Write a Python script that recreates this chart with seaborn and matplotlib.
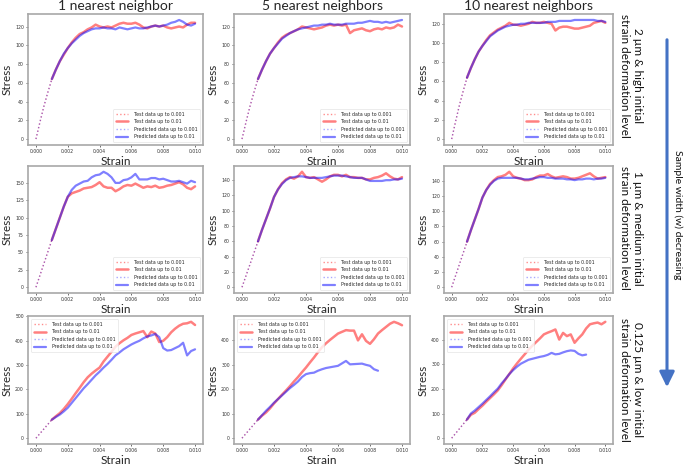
import matplotlib
matplotlib.use("Agg")
import matplotlib.pyplot as plt
import seaborn as sns
from matplotlib.patches import FancyArrowPatch
from matplotlib.ticker import MultipleLocator, FormatStrFormatter

# ---------------- data ----------------
COL_TITLES = ["1 nearest neighbor", "5 nearest neighbors", "10 nearest neighbors"]
ROW_LABELS = ["2 \u00b5m & high initial\nstrain deformation level",
              "1 \u00b5m & medium initial\nstrain deformation level",
              "0.125 \u00b5m & low initial\nstrain deformation level"]
ARROW_LABEL = "Sample width (w) decreasing"
LEGEND_LABELS = ["Test data up to 0.001", "Test data up to 0.01",
                 "Predicted data up to 0.001", "Predicted data up to 0.01"]
X_LABEL = "Strain"
Y_LABEL = "Stress"
X_TICKS = [0.000, 0.002, 0.004, 0.006, 0.008, 0.010]
Y_STEPS = [[20, 20, 20], [25, 20, 20], [100, 100, 100]]

# strain for the initial (up to 0.001) segment
PRE_STRAIN = [0.0, 0.00025, 0.0005, 0.00075, 0.001]
PRE_ROW = [[0, 18, 35, 50, 64],
           [0, 17, 34, 51, 68],
           [0, 19, 38, 57, 76]]
PRE_ROW_B = [[0, 18, 35, 50, 64],
             [0, 15, 30, 45, 60],
             [0, 19, 38, 57, 76]]

# strain for the up-to-0.01 series
STRAIN = [0.001, 0.00125, 0.0015, 0.00175, 0.002, 0.00225, 0.0025, 0.00275,
          0.003, 0.00325, 0.0035, 0.00375, 0.004, 0.00425, 0.0045, 0.00475,
          0.005, 0.00525, 0.0055, 0.00575, 0.006, 0.00625, 0.0065, 0.00675,
          0.007, 0.00725, 0.0075, 0.00775, 0.008, 0.00825, 0.0085, 0.00875,
          0.009, 0.00925, 0.0095, 0.00975, 0.010]

# row 1 (2 um)
TEST_R1_K1 = [64, 74, 83, 90, 97, 103, 108, 112, 114, 117, 119, 122, 120, 119, 120, 119,
              121, 123, 124, 123, 123, 124, 122, 119, 118, 120, 121, 120, 121, 119, 118,
              119, 120, 119, 122, 124, 124]
PRED_R1_K1 = [64, 74, 83, 91, 97, 102, 106, 110, 113, 115, 117, 118, 118, 119, 118, 118,
              117, 119, 118, 117, 118, 119, 118, 118, 119, 120, 121, 120, 121, 122, 124,
              125, 127, 125, 122, 121, 123]
TEST_R1_K5 = [64, 74, 83, 91, 97, 103, 108, 111, 113, 115, 117, 120, 119, 118, 117, 118,
              119, 121, 122, 121, 122, 121, 122, 113, 116, 117, 118, 116, 115, 117, 118,
              117, 119, 118, 119, 122, 120]
PRED_R1_K5 = [64, 74, 83, 91, 97, 102, 107, 110, 113, 115, 117, 118, 119, 120, 121, 121,
              122, 122, 123, 122, 122, 122, 123, 123, 123, 124, 124, 125, 126, 125, 125,
              124, 125, 124, 125, 126, 127]
TEST_R1_K10 = [64, 74, 83, 91, 97, 103, 108, 111, 114, 116, 118, 121, 119, 119, 118, 119,
               120, 122, 121, 121, 122, 121, 120, 113, 116, 117, 117, 116, 115, 115, 116,
               117, 118, 121, 122, 123, 121]
PRED_R1_K10 = [64, 74, 83, 91, 97, 102, 107, 110, 113, 115, 117, 118, 119, 119, 120, 120,
               121, 121, 121, 121, 121, 122, 122, 122, 123, 123, 123, 123, 124, 124, 124,
               124, 124, 124, 123, 123, 122]

# row 2 (1 um)
TEST_R2_K1 = [68, 84, 100, 116, 130, 135, 137, 139, 142, 143, 144, 147, 151, 145, 143, 143,
              138, 141, 145, 147, 146, 149, 146, 143, 145, 144, 146, 143, 144, 146, 147,
              149, 151, 148, 143, 141, 145]
PRED_R2_K1 = [68, 84, 100, 116, 130, 140, 146, 149, 152, 153, 158, 161, 162, 166, 163, 158,
              150, 150, 154, 155, 158, 163, 155, 155, 155, 157, 157, 155, 156, 154, 152,
              152, 153, 151, 149, 153, 151]
TEST_R2_K5 = [60, 75, 89, 103, 118, 128, 136, 141, 144, 142, 145, 151, 144, 143, 144, 141,
              138, 141, 145, 147, 147, 145, 147, 144, 144, 143, 143, 141, 141, 143, 144,
              146, 149, 145, 142, 141, 144]
PRED_R2_K5 = [60, 75, 89, 103, 118, 128, 135, 140, 143, 144, 145, 145, 144, 143, 143, 143,
              143, 144, 145, 146, 146, 146, 145, 144, 143, 143, 143, 141, 139, 139, 139,
              139, 140, 140, 141, 141, 142]
TEST_R2_K10 = [60, 75, 89, 103, 118, 128, 136, 141, 145, 146, 148, 152, 146, 144, 143, 141,
               141, 142, 145, 147, 147, 149, 146, 144, 145, 146, 145, 143, 143, 144, 146,
               148, 150, 146, 143, 144, 145]
PRED_R2_K10 = [60, 75, 89, 103, 118, 128, 135, 140, 143, 144, 144, 144, 144, 144, 143, 142,
               142, 143, 144, 145, 145, 144, 144, 143, 143, 143, 142, 142, 141, 142, 142,
               143, 143, 142, 143, 143, 144]

# row 3 (0.125 um)
TEST_R3_K1 = [76, 90, 103, 120, 140, 162, 185, 207, 230, 250, 265, 278, 290, 315, 335, 355,
              376, 390, 402, 412, 424, 430, 435, 440, 415, 438, 430, 395, 400, 415, 435,
              450, 462, 470, 472, 478, 465]
PRED_R3_K1 = [76, 87, 97, 110, 125, 145, 165, 185, 205, 222, 240, 258, 273, 290, 305, 322,
              340, 352, 365, 375, 385, 393, 400, 410, 418, 422, 428, 415, 370, 360, 362,
              370, 378, 392, 340, 358, 365]
TEST_R3_K5 = [76, 92, 105, 122, 142, 160, 178, 195, 213, 232, 250, 270, 289, 310, 330, 352,
              372, 388, 402, 415, 428, 435, 442, 440, 440, 400, 425, 398, 386, 405, 428,
              442, 455, 468, 476, 470, 462]
PRED_R3_K5 = [76, 94, 112, 128, 145, 160, 175, 190, 205, 218, 232, 250, 262, 266, 268, 276,
              282, 287, 290, 293, 296, 306, 316, 302, 303, 304, 305, 300, 296, 282, 276]
TEST_R3_K10 = [76, 95, 103, 118, 132, 148, 163, 178, 194, 215, 238, 260, 283, 303, 322, 340,
               359, 375, 390, 405, 421, 428, 434, 441, 400, 427, 414, 421, 387, 405, 421,
               445, 462, 466, 469, 462, 472]
PRED_R3_K10 = [76, 100, 112, 126, 140, 155, 170, 186, 201, 222, 240, 260, 276, 290, 302, 310,
               318, 322, 326, 330, 333, 338, 346, 340, 342, 348, 353, 356, 354, 342, 336, 339]

TEST = [[TEST_R1_K1, TEST_R1_K5, TEST_R1_K10],
        [TEST_R2_K1, TEST_R2_K5, TEST_R2_K10],
        [TEST_R3_K1, TEST_R3_K5, TEST_R3_K10]]
PRED = [[PRED_R1_K1, PRED_R1_K5, PRED_R1_K10],
        [PRED_R2_K1, PRED_R2_K5, PRED_R2_K10],
        [PRED_R3_K1, PRED_R3_K5, PRED_R3_K10]]

# ---------------- layout ----------------
W, H = 685, 467
COLS = [(28, 203), (234, 410), (444, 613)]
ROWS = [(14, 145), (166, 293), (316, 444)]
ROW_CENTERS = [76, 228, 380]

sns.set_theme(style="white")
plt.rcParams["font.family"] = ["DejaVu Sans"]

fig = plt.figure(figsize=(W / 100, H / 100), dpi=100)
fig.patch.set_facecolor("white")

LBL_FONT = ["Lato", "DejaVu Sans"]
RED = "#ff0000"
BLUE = "#0000ff"

for r in range(3):
    for c in range(3):
        x0, x1 = COLS[c]
        y0, y1 = ROWS[r]
        ax = fig.add_axes([x0 / W, 1 - y1 / H, (x1 - x0) / W, (y1 - y0) / H])
        ax.set_facecolor("white")
        pre_y = PRE_ROW[r] if c == 0 else PRE_ROW_B[r]
        ty = TEST[r][c]
        py = PRED[r][c]
        sns.lineplot(x=PRE_STRAIN, y=pre_y, ax=ax, color=RED, alpha=0.45, lw=1.0,
                     linestyle=":", label=LEGEND_LABELS[0], estimator=None, sort=False)
        sns.lineplot(x=STRAIN[:len(ty)], y=ty, ax=ax, color=RED, alpha=0.5, lw=1.8,
                     label=LEGEND_LABELS[1], estimator=None, sort=False)
        sns.lineplot(x=PRE_STRAIN, y=pre_y, ax=ax, color=BLUE, alpha=0.35, lw=1.0,
                     linestyle=":", label=LEGEND_LABELS[2], estimator=None, sort=False)
        sns.lineplot(x=STRAIN[:len(py)], y=py, ax=ax, color=BLUE, alpha=0.5, lw=1.6,
                     label=LEGEND_LABELS[3], estimator=None, sort=False)

        ax.set_xticks(X_TICKS)
        ax.xaxis.set_major_formatter(FormatStrFormatter("%.3f"))
        ax.yaxis.set_major_locator(MultipleLocator(Y_STEPS[r][c]))
        ax.tick_params(axis="both", labelsize=3.3, length=1.5, width=0.5,
                       colors="#333333", pad=1.5, bottom=True, left=True)
        for s in ax.spines.values():
            s.set_color("#a8a8a8")
            s.set_linewidth(1.2)
        ax.set_xlabel(X_LABEL, family=LBL_FONT, fontsize=8.5, labelpad=1)
        ax.set_ylabel(Y_LABEL, family=LBL_FONT, fontsize=8.5, labelpad=2)
        if r == 0:
            ax.set_title(COL_TITLES[c], family=LBL_FONT, fontsize=10, pad=3)
        loc = "upper left" if r == 2 else "lower right"
        leg = ax.legend(loc=loc, fontsize=3.4, handlelength=2.6, frameon=True,
                        borderpad=0.6, labelspacing=0.55, handletextpad=1.2,
                        borderaxespad=0.6)
        leg.get_frame().set_edgecolor("#dddddd")
        leg.get_frame().set_linewidth(0.5)

for r in range(3):
    fig.text(631 / W, 1 - ROW_CENTERS[r] / H, ROW_LABELS[r], rotation=-90,
             ha="center", va="center", multialignment="center",
             family=LBL_FONT, fontsize=8.5, linespacing=1.15, color="#111111")

arrow = FancyArrowPatch((667 / W, 1 - 37 / H), (667 / W, 1 - 390 / H),
                        transform=fig.transFigure,
                        arrowstyle="-|>,head_length=0.65,head_width=0.32",
                        mutation_scale=14, color="#4472C4", lw=2.2)
fig.patches.append(arrow)
fig.text(678 / W, 1 - 215 / H, ARROW_LABEL, rotation=-90, ha="center", va="center",
         family=LBL_FONT, fontsize=7.5, color="#111111")

fig.savefig("out.png", dpi=100, facecolor="white")
